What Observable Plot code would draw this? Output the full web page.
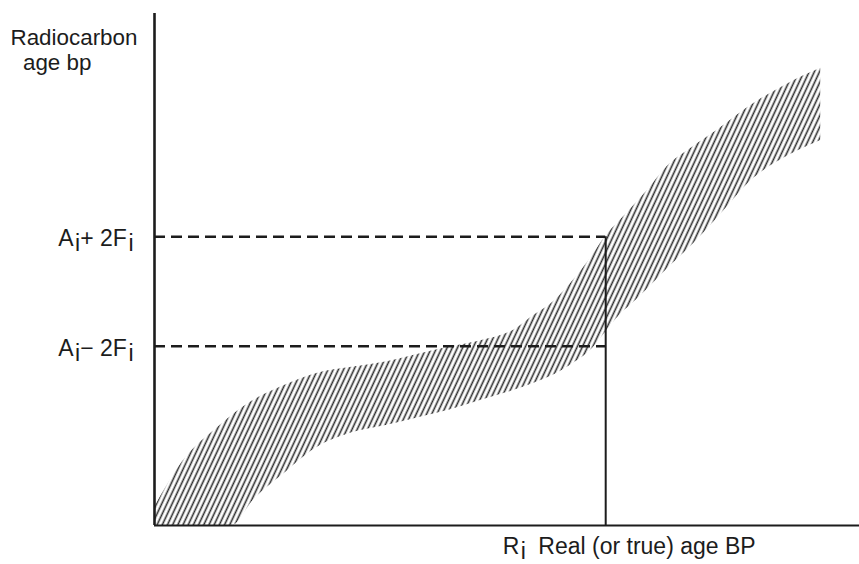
<!DOCTYPE html>
<html><head><meta charset="utf-8">
<script src="https://cdn.jsdelivr.net/npm/d3@7"></script>
<script src="https://cdn.jsdelivr.net/npm/@observablehq/plot@0.6"></script>
<style>
body{margin:0;background:#fff;}
#chart svg{display:block;}
</style>
</head><body><div id="chart"></div>
<script>
// Schematic calibration band (arbitrary units, 0-100)
const bandX    = [0, 4, 9, 11, 14, 18, 23, 28, 33, 37, 42, 46, 51, 54, 56, 59, 62, 64, 66, 68, 70, 73, 76, 80, 85, 90, 94.5];
const bandHigh = [3.5, 12.5, 19.2, 21.5, 24.4, 27.1, 29.7, 30.9, 32.0, 33.3, 34.9, 36.0, 38.2, 41.2, 43.0, 47.2, 52.5, 56.5, 59.5, 62.5, 65.6, 70.5, 73.6, 77.4, 82.4, 86.4, 89.3];
const bandLow  = [0, 0, 0, 0, 4.9, 9.7, 15.2, 18.1, 19.6, 20.9, 22.6, 24.3, 26.4, 27.9, 29.0, 31.3, 34.4, 37.8, 41.1, 43.6, 46.3, 50.5, 54.4, 60.3, 67.8, 72.3, 75.2];

const limitValues = [56.4, 35.0];               // A_i + 2F_i, A_i - 2F_i
const limitLabels = ["A_i+ 2F_i", "A_i\u2212 2F_i"];
const realAge = 64.0;                           // R_i
const xTitle = "R_i Real (or true) age BP";
const yTitle = ["Radiocarbon", "age bp"];

const band = bandX.map((x, i) => ({x, lo: bandLow[i], hi: bandHigh[i]}));
const limits = limitValues.map((v, i) => ({v, label: limitLabels[i]}));

const FONT = "Liberation Sans, Arial, Helvetica, sans-serif";
const INK = "#1c1c1c";

const chart = Plot.plot({
  width: 859,
  height: 564,
  marginLeft: 154,
  marginRight: 0,
  marginTop: 13,
  marginBottom: 39,
  x: {domain: [0, 100], axis: null},
  y: {domain: [0, 100], axis: null},
  style: {fontFamily: FONT, background: "#fff"},
  marks: [
    Plot.areaY(band, {x: "x", y1: "lo", y2: "hi", fill: "url(#hatch)", curve: "monotone-x"}),
    Plot.ruleY(limits, {y: "v", x1: 0, x2: realAge, stroke: INK, strokeWidth: 2.6, strokeDasharray: "11,6"}),
    Plot.ruleX([realAge], {y1: 0, y2: limitValues[0], stroke: INK, strokeWidth: 2}),
    Plot.ruleX([0], {y1: 0, y2: 100, stroke: INK, strokeWidth: 2.6}),
    Plot.ruleY([0], {x1: 0, x2: 100, stroke: INK, strokeWidth: 2.2}),
    Plot.text(limits, {x: 0, y: "v", text: "label", textAnchor: "end", dx: -21, dy: 2, fontSize: 23, fill: INK}),
    Plot.text([xTitle], {x: realAge, y: 0, text: d => d, textAnchor: "start", dx: -103, dy: 21, fontSize: 23, fill: INK}),
    Plot.text([yTitle[0] + "\n  " + yTitle[1]], {x: 0, y: 100, text: d => d, textAnchor: "start", lineAnchor: "top", lineHeight: 1.12, dx: -144, dy: 14, fontSize: 22.4, fill: INK})
  ]
});

// hatch pattern
const ns = "http://www.w3.org/2000/svg";
const defs = document.createElementNS(ns, "defs");
defs.innerHTML = '<pattern id="hatch" patternUnits="userSpaceOnUse" width="4.7" height="20" patternTransform="rotate(25)">' +
  '<line x1="2.3" y1="-2" x2="2.3" y2="22" stroke="#2e2e2e" stroke-width="1.6"/></pattern>';
chart.insertBefore(defs, chart.firstChild);

// preserve indentation of the y title
chart.querySelectorAll("text").forEach(t => {
  if (t.textContent.includes(yTitle[0])) t.style.whiteSpace = "pre";
});

// subscripts: "_i" -> lowered i
chart.querySelectorAll("text").forEach(t => {
  const s = t.textContent;
  if (!s.includes("_")) return;
  const parts = s.split(/_(\w)/);
  while (t.firstChild) t.removeChild(t.firstChild);
  t.style.whiteSpace = "pre";
  let shift = 0;
  const SUB = 5;
  parts.forEach((p, k) => {
    if (p === "") return;
    const ts = document.createElementNS(ns, "tspan");
    if (k % 2 === 1) {
      ts.setAttribute("dy", SUB - shift);
      ts.setAttribute("dx", 1.5);
      shift = SUB;
    } else {
      ts.setAttribute("dy", -shift);
      if (k > 0 && p.startsWith(" ") && p.length > 6) ts.setAttribute("dx", 6);
      shift = 0;
    }
    ts.textContent = p;
    t.appendChild(ts);
  });
});

document.getElementById("chart").appendChild(chart);
</script>
</body></html>
